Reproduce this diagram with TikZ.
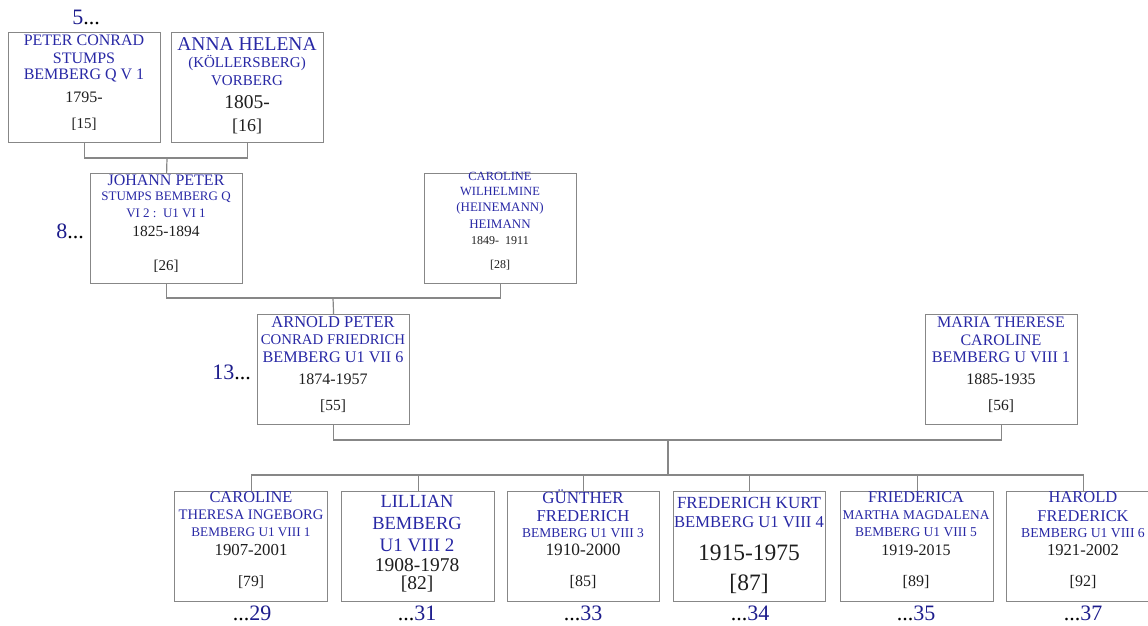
\documentclass[tikz,border=0pt]{standalone}
\usepackage{fontspec}
\setmainfont{Liberation Serif}
\definecolor{nameblue}{RGB}{40,40,165}
\definecolor{numblue}{RGB}{28,28,140}
\definecolor{linegray}{RGB}{135,135,135}
\definecolor{darktext}{RGB}{30,30,30}
\tikzset{
  pbox/.style={draw=linegray, line width=1.2pt, minimum width=152pt, minimum height=110pt, inner sep=0pt, anchor=north west},
  conn/.style={draw=linegray, line width=1.2pt},
  nm/.style={text=nameblue, inner sep=0pt, font=\fontsize{#1}{#1}\selectfont},
  dt/.style={text=darktext, inner sep=0pt, font=\fontsize{#1}{#1}\selectfont},
  gen/.style={inner sep=0pt, font=\fontsize{22}{22}\selectfont}
}
\begin{document}
\begin{tikzpicture}[x=1pt,y=-1pt]
\useasboundingbox (0,0) rectangle (1148,626);
\clip (0,0) rectangle (1148,626);
% boxes
\node[pbox] (p15) at (8,32) {};
\node[pbox] (p16) at (171,32) {};
\node[pbox] (p26) at (90,173) {};
\node[pbox] (p28) at (424,173) {};
\node[pbox] (p55) at (257,314) {};
\node[pbox] (p56) at (925,314) {};
\node[pbox, minimum width=153pt] (p79) at (174,491) {};
\node[pbox, minimum width=153pt] (p82) at (341,491) {};
\node[pbox] (p85) at (507,491) {};
\node[pbox] (p87) at (673,491) {};
\node[pbox, minimum width=153pt] (p89) at (840,491) {};
\node[pbox, minimum width=154pt] (p92) at (1006,491) {};
% connectors
\coordinate (j1) at (167,158);
\coordinate (j2) at (333,298);
\coordinate (j3) at (668,440);
\coordinate (j4) at (668,475);
\draw[conn] (p15.south) |- (j1) -| (p16.south);
\draw[conn] (j1) -- (p26.north);
\draw[conn] (p26.south) |- (j2) -| (p28.south);
\draw[conn] (j2) -- (p55.north);
\draw[conn] (p55.south) |- (j3) -| (p56.south);
\draw[conn] (j3) -- (j4);
\draw[conn] (j4) -| (p79.north);
\draw[conn] (j4) -| (p82.north);
\draw[conn] (j4) -| (p85.north);
\draw[conn] (j4) -| (p87.north);
\draw[conn] (j4) -| (p89.north);
\draw[conn] (j4) -| (p92.north);
% box 15
\node[nm=16] (t15a) at (84,40) {PETER CONRAD};
\node[nm=16] (t15b) at (84,58) {STUMPS};
\node[nm=16] (t15c) at (84,76) {BEMBERG Q V 1};
\node[dt=16] (t15d) at (84,97) {1795-};
\node[dt=15] (t15e) at (84,124) {[15]};
% box 16
\node[nm=19.5] (t16a) at (247,44) {ANNA HELENA};
\node[nm=15] (t16b) at (247,63) {(KÖLLERSBERG)};
\node[nm=15] (t16c) at (247,81) {VORBERG};
\node[dt=19.5] (t16d) at (247,102) {1805-};
\node[dt=18] (t16e) at (247,126) {[16]};
% box 26
\node[nm=16] (t26a) at (166,180) {JOHANN PETER};
\node[nm=13] (t26b) at (166,197) {STUMPS BEMBERG Q};
\node[nm=13] (t26c) at (166,213) {VI 2 :\ \ U1 VI 1};
\node[dt=15.5] (t26d) at (166,231) {1825-1894};
\node[dt=15] (t26e) at (166,266) {[26]};
% box 28
\node[nm=12.5] (t28a) at (500,176) {CAROLINE};
\node[nm=12.5] (t28b) at (500,192) {WILHELMINE};
\node[nm=13] (t28c) at (500,208) {(HEINEMANN)};
\node[nm=13] (t28d) at (500,224) {HEIMANN};
\node[dt=12] (t28e) at (500,241) {1849-\ \ 1911};
\node[dt=12] (t28f) at (500,265) {[28]};
% box 55
\node[nm=16.5] (t55a) at (333,322) {ARNOLD PETER};
\node[nm=14.8] (t55b) at (333,340) {CONRAD FRIEDRICH};
\node[nm=16.2] (t55c) at (333,357) {BEMBERG U1 VII 6};
\node[dt=16] (t55d) at (333,379) {1874-1957};
\node[dt=15.5] (t55e) at (333,406) {[55]};
% box 56
\node[nm=16] (t56a) at (1001,322) {MARIA THERESE};
\node[nm=16] (t56b) at (1001,340) {CAROLINE};
\node[nm=16.2] (t56c) at (1001,357) {BEMBERG U VIII 1};
\node[dt=16] (t56d) at (1001,379) {1885-1935};
\node[dt=15.5] (t56e) at (1001,406) {[56]};
% child 79
\node[nm=16.4] (t79a) at (251,497) {CAROLINE};
\node[nm=14.6] (t79b) at (251,515) {THERESA INGEBORG};
\node[nm=13.2] (t79c) at (251,532) {BEMBERG U1 VIII 1};
\node[dt=16.8] (t79d) at (251,550) {1907-2001};
\node[dt=15.6] (t79e) at (251,582) {[79]};
% child 82
\node[nm=18.5] (t82a) at (417,501) {LILLIAN};
\node[nm=18.5] (t82b) at (417,523) {BEMBERG};
\node[nm=19] (t82c) at (417,545) {U1 VIII 2};
\node[dt=19.5] (t82d) at (417,565) {1908-1978};
\node[dt=19.5] (t82e) at (417,584) {[82]};
% child 85
\node[nm=17] (t85a) at (583,497) {GÜNTHER};
\node[nm=16.7] (t85b) at (583,516) {FREDERICH};
\node[nm=13.5] (t85c) at (583,533) {BEMBERG U1 VIII 3};
\node[dt=17.3] (t85d) at (583,550) {1910-2000};
\node[dt=16] (t85e) at (583,582) {[85]};
% child 87
\node[nm=17] (t87a) at (749,503) {FREDERICH KURT};
\node[nm=16.6] (t87b) at (749,522) {BEMBERG U1 VIII 4};
\node[dt=23.5] (t87c) at (749,553) {1915-1975};
\node[dt=23.5] (t87d) at (749,584) {[87]};
% child 89
\node[nm=16.3] (t89a) at (916,497) {FRIEDERICA};
\node[nm=13.4] (t89b) at (916,515) {MARTHA MAGDALENA};
\node[nm=13.5] (t89c) at (916,532) {BEMBERG U1 VIII 5};
\node[dt=16] (t89d) at (916,550) {1919-2015};
\node[dt=16] (t89e) at (916,582) {[89]};
% child 92
\node[nm=16.5] (t92a) at (1083,497) {HAROLD};
\node[nm=16.4] (t92b) at (1083,516) {FREDERICK};
\node[nm=13.7] (t92c) at (1083,533) {BEMBERG U1 VIII 6};
\node[dt=16.6] (t92d) at (1083,550) {1921-2002};
\node[dt=16] (t92e) at (1083,582) {[92]};
% generation labels
\node[gen, anchor=base] (g5) at (86,25) {\textcolor{numblue}{5}...};
\node[gen, anchor=base east] (g8) at (84,238) {\textcolor{numblue}{8}...};
\node[gen, anchor=base east] (g13) at (251,379) {\textcolor{numblue}{13}...};
\node[gen, anchor=base] (g29) at (252,620) {...\textcolor{numblue}{29}};
\node[gen, anchor=base] (g31) at (417,620) {...\textcolor{numblue}{31}};
\node[gen, anchor=base] (g33) at (583,620) {...\textcolor{numblue}{33}};
\node[gen, anchor=base] (g34) at (750,620) {...\textcolor{numblue}{34}};
\node[gen, anchor=base] (g35) at (916,620) {...\textcolor{numblue}{35}};
\node[gen, anchor=base] (g37) at (1083,620) {...\textcolor{numblue}{37}};
\end{tikzpicture}
\end{document}
